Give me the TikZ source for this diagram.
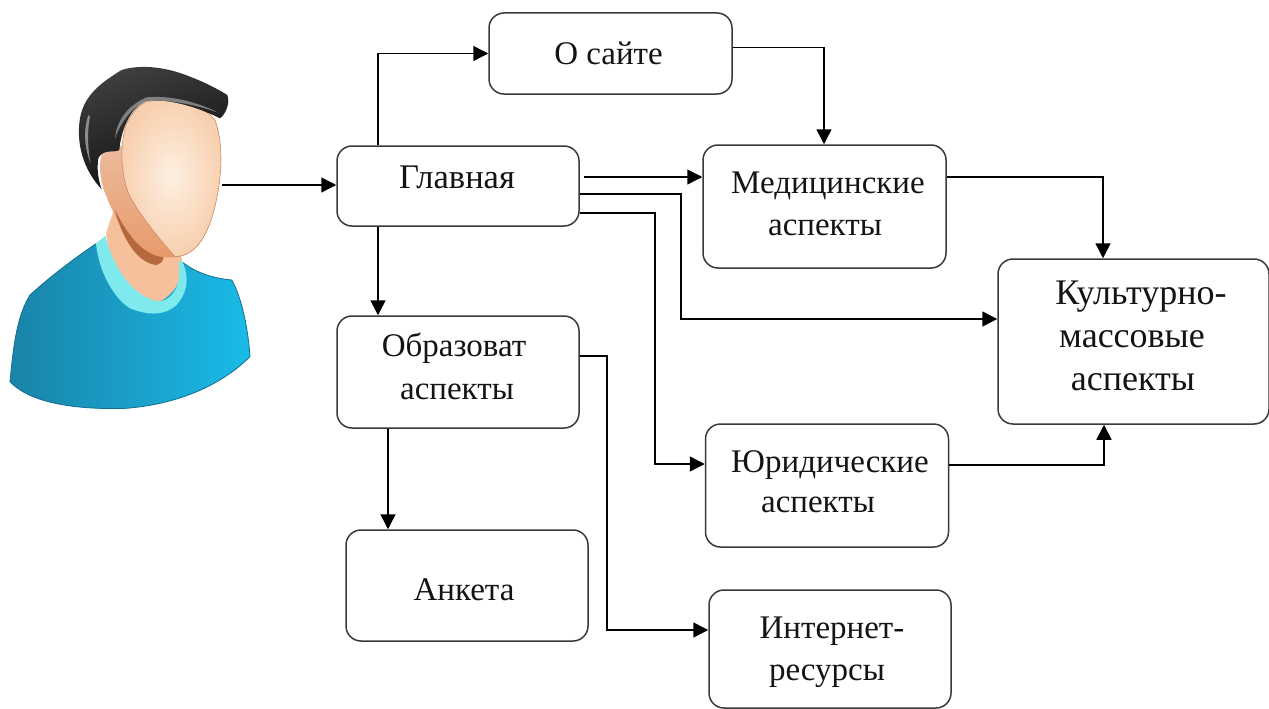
\documentclass[tikz,border=0pt]{standalone}
\usepackage{fontspec}
\setmainfont{Liberation Serif}
\usetikzlibrary{arrows.meta}
\definecolor{edgecol}{HTML}{3A3A3A}
\definecolor{inkcol}{HTML}{141414}
\definecolor{shirtl}{HTML}{1A83A8}
\definecolor{shirtr}{HTML}{1ABBE8}
\definecolor{shirte}{HTML}{126F8E}
\definecolor{skinneck}{HTML}{F6C09C}
\definecolor{skinear}{HTML}{EDBC9E}
\definecolor{skindeep}{HTML}{E8996A}
\definecolor{jawshade}{HTML}{B5683C}
\definecolor{facein}{HTML}{FDF0E2}
\definecolor{faceout}{HTML}{F8CFAE}
\definecolor{faceline}{HTML}{C58A66}
\definecolor{collar}{HTML}{7FEAEE}
\tikzset{
  x=1pt,y=-1pt,
  pagebox/.style={draw=edgecol,line width=1.5pt,rounded corners=15pt,fill=white,inner sep=0pt,
    text=inkcol,font=\fontsize{33}{43}\selectfont},
  link/.style={draw=black,line width=1.5pt,-{Triangle[length=15pt,width=15pt]}},
}
\newcommand{\tline}[2]{\makebox[0pt]{\hspace*{#1pt}\hspace*{#1pt}#2}}
\newcommand{\boxtext}[2]{\raisebox{#1pt}[0pt][0pt]{\begin{tabular}[t]{@{}c@{}}#2\end{tabular}}}
\begin{document}
\begin{tikzpicture}
\useasboundingbox (0,0) rectangle (1269,709);
\fill[white] (0,0) rectangle (1269,709);

% person, in 3x crop coordinates
\begin{scope}[yshift=-60pt,x=0.3333pt,y=-0.3333pt]
  % shirt
  \path[left color=shirtl,right color=shirtr,draw=shirte,line width=0.8pt]
    (30,965) .. controls (40,860) and (50,770) .. (90,705)
    .. controls (150,650) and (230,590) .. (290,550)
    -- (545,605) .. controls (590,640) and (640,655) .. (695,660)
    .. controls (725,710) and (745,810) .. (750,890)
    .. controls (680,960) and (560,1030) .. (380,1045)
    .. controls (230,1050) and (90,1030) .. (30,965) -- cycle;
  % neck
  \path[fill=skinneck] (318,520) -- (345,440) -- (545,590)
    .. controls (550,640) and (540,690) .. (480,725)
    .. controls (400,725) and (330,640) .. (318,520) -- cycle;
  % collar
  \path[fill=collar] (288,550) -- (316,528)
    .. controls (335,610) and (395,715) .. (480,725)
    .. controls (520,715) and (545,680) .. (536,603)
    -- (548,606) .. controls (570,660) and (560,700) .. (530,735)
    .. controls (490,770) and (440,765) .. (390,745)
    .. controls (340,715) and (295,630) .. (288,550) -- cycle;
  % ear and side of head
  \path[top color=skinear,bottom color=skindeep]
    (340,250) .. controls (300,265) and (290,310) .. (310,385)
    .. controls (330,440) and (350,480) .. (380,530)
    .. controls (420,580) and (480,600) .. (530,590)
    -- (480,300) -- cycle;
  % jaw shadow
  \path[fill=jawshade] (345,450)
    .. controls (365,530) and (410,610) .. (470,615)
    .. controls (485,610) and (490,600) .. (490,592)
    .. controls (430,585) and (385,530) .. (345,450) -- cycle;
  % face
  \path[inner color=facein,outer color=faceout,draw=faceline,line width=0.6pt]
    (440,125) .. controls (520,110) and (610,135) .. (645,180)
    .. controls (670,250) and (668,340) .. (645,440)
    .. controls (625,520) and (590,590) .. (525,590)
    .. controls (490,550) and (420,470) .. (385,400)
    .. controls (360,330) and (360,250) .. (380,190)
    .. controls (395,160) and (415,135) .. (440,125) -- cycle;
  % hair
  \path[top color=black!75,bottom color=black!95,shading angle=20]
    (305,388) .. controls (260,340) and (230,270) .. (238,190)
    .. controls (245,110) and (300,70) .. (365,30)
    .. controls (430,10) and (510,25) .. (570,50)
    .. controls (610,65) and (650,85) .. (682,105)
    .. controls (692,130) and (675,165) .. (660,175)
    .. controls (610,150) and (520,115) .. (440,122)
    .. controls (395,140) and (365,200) .. (358,270)
    .. controls (340,280) and (310,265) .. (295,295)
    .. controls (290,330) and (295,360) .. (305,388) -- cycle;
  \path[fill=black!45] (265,165) .. controls (250,210) and (252,260) .. (272,310)
    .. controls (262,260) and (262,210) .. (270,170) -- cycle;
  \path[fill=black!50] (345,235) .. controls (350,180) and (385,135) .. (440,112)
    .. controls (520,105) and (600,130) .. (655,158)
    .. controls (590,135) and (510,118) .. (440,122)
    .. controls (400,140) and (365,180) .. (345,235) -- cycle;
\end{scope}

\coordinate (faceside) at (222,185);

\node[pagebox,minimum width=243pt,minimum height=81pt] (osite) at (610.5,53.5)
  {\boxtext{-11.5}{\tline{-2}{О сайте}}};
\node[pagebox,minimum width=242pt,minimum height=80pt,font=\fontsize{34.5}{43}\selectfont] (main) at (458,186)
  {\boxtext{-2}{\tline{-1}{Главная}}};
\node[pagebox,minimum width=243pt,minimum height=123pt] (med) at (824.5,206.5)
  {\boxtext{13.5}{\tline{3.5}{Медицинские}\\[-1pt]\tline{0.5}{аспекты}}};
\node[pagebox,minimum width=271pt,minimum height=165pt,font=\fontsize{36}{43}\selectfont] (cult) at (1133.5,341.5)
  {\boxtext{37.5}{\tline{7.5}{Культурно-}\\\tline{-1.5}{массовые}\\\tline{-0.5}{аспекты}}};
\node[pagebox,minimum width=242pt,minimum height=112pt] (edu) at (458,372)
  {\boxtext{16}{\tline{-4}{Образоват}\\\tline{-1}{аспекты}}};
\node[pagebox,minimum width=243pt,minimum height=123pt] (law) at (827,485.5)
  {\boxtext{13.5}{\tline{3}{Юридические}\\[-3pt]\tline{-9}{аспекты}}};
\node[pagebox,minimum width=242pt,minimum height=111pt] (form) at (467,585.5)
  {\boxtext{-14.5}{\tline{-3}{Анкета}}};
\node[pagebox,minimum width=242pt,minimum height=118pt] (web) at (830,649)
  {\boxtext{11}{\tline{2}{Интернет-}\\[-1pt]\tline{-3}{ресурсы}}};

\draw[link] (faceside) -- (main.west |- faceside);
\draw[link] ([xshift=-80pt]main.north) |- (osite.west);
\draw[link] ([yshift=6pt]osite.east) -| ([xshift=-0.5pt]med.north);
\draw[link] ([xshift=4pt,yshift=9pt]main.east) -- ([yshift=29.5pt]med.west);
\draw[link] ([yshift=-8pt]main.east) -- ++(101,0) |- ([yshift=22.5pt]cult.west);
\draw[link] ([yshift=-27pt]main.east) -- ++(75,0) |- (law.west |- 0,464);
\draw[link] ([xshift=-80pt]main.south) -- ([xshift=-80pt]edu.north);
\draw[link] ([yshift=29.5pt]med.east) -| ([xshift=-30.5pt]cult.north);
\draw[link] ([yshift=20.5pt]law.east) -| ([xshift=-29.5pt]cult.south);
\draw[link] ([xshift=-70pt]edu.south) -- ([xshift=-79pt]form.north);
\draw[link] ([yshift=16pt]edu.east) -- ++(27,0) |- ([yshift=19pt]web.west);
\end{tikzpicture}
\end{document}
